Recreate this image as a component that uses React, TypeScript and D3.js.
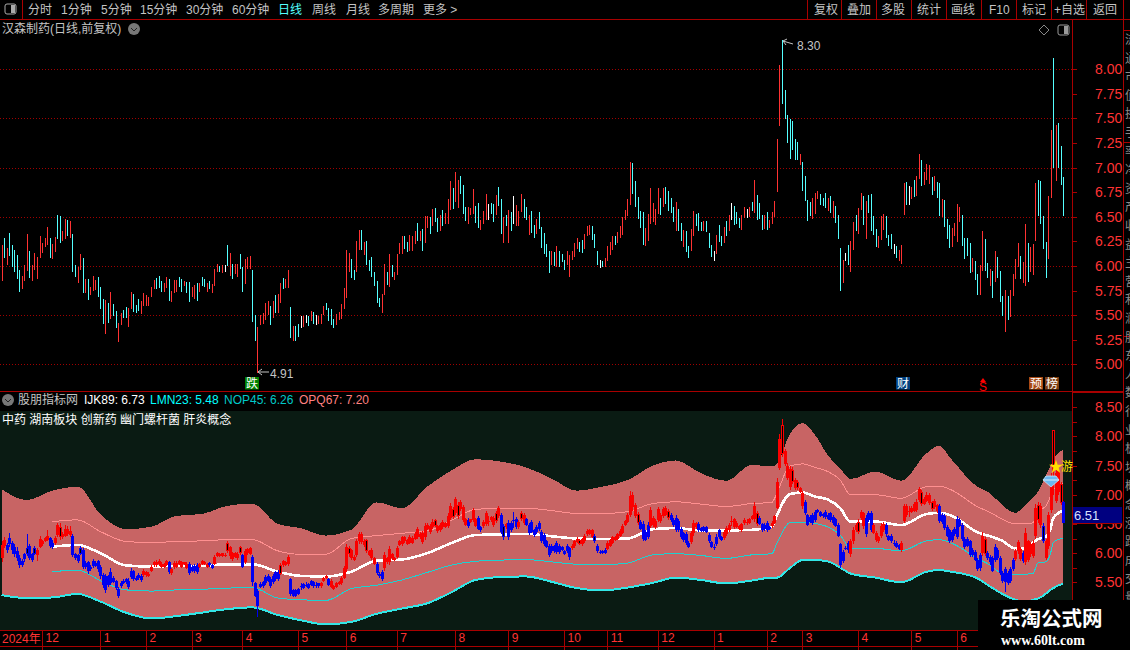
import React, { useEffect, useRef } from 'react';
import * as d3 from 'd3';

// r = up, c = down, w = flat (colours of the upper pane)
const barTones = [
  'rcrcccccrr', 'rcrrrrrrrc', 'rrccrrcrcc', 'rrcrcrrrcc', 'crcrccrrcc', 'rrcccrrrrr', 'rcccrrcrrr', 'ccrccrrcrc', 'crcrrrcrwc', 'rcrrccrrrc', 'crrrrrcrcr', 'rcrrcrcc',
  'wrwcrcwrrr', 'ccccrrrrrr', 'ccrrcrcccc', 'ccrrcrcrrr', 'rccrrrcrcr', 'rcrccrcrrr', 'crrcccrrrc', 'crrrwccrcc', 'rcrcwrrrcc', 'rccrcccccr', 'crcccrrrrr', 'ccrrrcccw',
  'crrrrcrrrr', 'rrcccccrrr', 'rrrcrccccr', 'ccrccrrccc', 'rcccwrccrc', 'rwcccrrwrc', 'rcccrcrrrr', 'rcccccccrc', 'cccrrrcccr',
  'crcccrwcrr', 'crrcrccccr', 'rrcccwcrrr', 'cwrcrrcrrr', 'crccrcccrr', 'rrccccrccr', 'rccrcrcccr', 'crrrrcrrcr', 'rrccccrrcr', 'ccc',
].join('');

const highs = [
  6.21, 6.28, 6.18, 6.34, 6.21, 6.16, 6.11, 5.96, 5.90, 6.01,
  6.33, 6.15, 6.01, 6.13, 6.09, 6.30, 6.23, 6.28, 6.40, 6.28,
  6.22, 6.29, 6.52, 6.51, 6.36, 6.48, 6.47, 6.46, 6.33, 6.01,
  5.99, 6.12, 6.08, 5.87, 5.87, 5.79, 5.90, 5.86, 5.89, 5.79,
  5.66, 5.65, 5.62, 5.74, 5.61, 5.54, 5.42, 5.52, 5.55, 5.58,
  5.57, 5.74, 5.71, 5.60, 5.66, 5.64, 5.73, 5.70, 5.68, 5.79,
  5.86, 5.88, 5.90, 5.85, 5.83, 5.89, 5.87, 5.75, 5.86, 5.86,
  5.89, 5.87, 5.85, 5.84, 5.84, 5.79, 5.81, 5.83, 5.83, 5.89,
  5.87, 5.83, 5.85, 5.82, 5.97, 6.02, 6.00, 6.01, 6.01, 6.21,
  6.13, 6.02, 6.02, 6.02, 6.12, 5.99, 6.07, 6.09, 6.10, 5.96,
  5.50, 5.38, 5.50, 5.52, 5.62, 5.64, 5.59, 5.64, 5.70, 5.71,
  5.83, 5.88, 5.87, 5.96, 5.58, 5.39, 5.39, 5.41,
  5.49, 5.49, 5.50, 5.49, 5.54, 5.53, 5.50, 5.49, 5.51, 5.59,
  5.62, 5.57, 5.56, 5.46, 5.51, 5.53, 5.61, 5.78, 6.16, 6.13,
  6.07, 5.96, 6.25, 6.37, 6.37, 6.24, 6.25, 6.06, 6.09, 5.94,
  5.85, 5.67, 5.71, 6.02, 5.94, 6.12, 6.01, 5.94, 6.12, 6.23,
  6.30, 6.30, 6.24, 6.31, 6.30, 6.36, 6.44, 6.36, 6.38, 6.51,
  6.51, 6.50, 6.58, 6.59, 6.49, 6.52, 6.57, 6.54, 6.68, 6.86,
  6.79, 6.96, 6.87, 6.91, 6.82, 6.60, 6.60, 6.59, 6.78, 6.61,
  6.64, 6.47, 6.56, 6.73, 6.63, 6.64, 6.63, 6.72, 6.80, 6.68,
  6.50, 6.52, 6.57, 6.55, 6.71, 6.62, 6.56, 6.73, 6.68, 6.60,
  6.52, 6.56, 6.42, 6.48, 6.55, 6.40, 6.34, 6.22, 6.15, 6.15,
  6.14, 6.20, 6.15, 6.12, 6.06, 6.15, 6.11, 6.15, 6.23, 6.28,
  6.24, 6.26, 6.33, 6.41, 6.42, 6.41, 6.33, 6.15, 6.06,
  6.05, 6.08, 6.20, 6.24, 6.30, 6.30, 6.35, 6.41, 6.50, 6.57,
  6.68, 7.06, 7.05, 6.86, 6.70, 6.56, 6.55, 6.39, 6.53, 6.79,
  6.64, 6.58, 6.79, 6.69, 6.79, 6.80, 6.76, 6.69, 6.60, 6.65,
  6.58, 6.44, 6.37, 6.36, 6.20, 6.38, 6.56, 6.53, 6.54, 6.45,
  6.46, 6.46, 6.34, 6.21, 6.15, 6.32, 6.42, 6.30, 6.40, 6.46,
  6.52, 6.64, 6.61, 6.55, 6.49, 6.52, 6.60, 6.58, 6.60, 6.65,
  6.87, 6.72, 6.64, 6.52, 6.52, 6.55, 6.47, 6.55, 6.66, 7.29,
  8.04, 8.30, 7.79, 7.54, 7.49, 7.47, 7.29, 7.26, 7.14, 7.06,
  6.91, 6.67, 6.65, 6.69, 6.74, 6.76, 6.73, 6.69, 6.74, 6.69,
  6.71, 6.66, 6.61, 6.52, 6.18, 6.06, 6.13, 6.21, 6.25, 6.45,
  6.52, 6.59, 6.74, 6.71, 6.66, 6.72, 6.73, 6.51, 6.38, 6.30,
  6.51, 6.53, 6.51, 6.31, 6.33, 6.22, 6.20, 6.16, 6.21, 6.84,
  6.85, 6.81, 6.80, 6.87, 6.92, 7.14, 7.08, 6.96, 7.04, 7.03,
  6.90, 6.92, 6.85, 6.84, 6.68, 6.67, 6.48, 6.42, 6.39, 6.44,
  6.63, 6.60, 6.52, 6.28, 6.28, 6.23, 6.08, 6.05, 5.92, 6.01,
  6.36, 6.27, 6.03, 5.97, 5.95, 6.15, 6.09, 5.95, 5.69, 5.76,
  5.69, 5.76, 5.92, 6.07, 6.23, 6.10, 6.04, 6.43, 6.23, 6.19,
  6.22, 6.84, 6.87, 6.86, 6.51, 6.24, 6.71, 7.38, 8.11, 7.43,
  7.45, 7.22, 6.90,
];

const lows = [
  5.85, 6.08, 6.01, 6.10, 5.99, 5.94, 5.87, 5.74, 5.77, 5.85,
  5.95, 5.88, 5.85, 5.96, 5.87, 6.08, 6.13, 6.19, 6.21, 6.08,
  6.07, 6.14, 6.27, 6.23, 6.25, 6.27, 6.30, 6.28, 5.94, 5.89,
  5.83, 5.96, 5.73, 5.73, 5.65, 5.70, 5.75, 5.76, 5.68, 5.56,
  5.41, 5.31, 5.42, 5.46, 5.49, 5.37, 5.23, 5.40, 5.47, 5.47,
  5.38, 5.56, 5.53, 5.52, 5.54, 5.51, 5.59, 5.59, 5.59, 5.68,
  5.77, 5.77, 5.78, 5.74, 5.74, 5.78, 5.64, 5.63, 5.73, 5.74,
  5.79, 5.74, 5.80, 5.73, 5.63, 5.68, 5.66, 5.64, 5.74, 5.80,
  5.79, 5.74, 5.77, 5.73, 5.80, 5.94, 5.94, 5.93, 5.94, 6.00,
  5.90, 5.87, 5.92, 5.89, 5.97, 5.74, 5.82, 5.97, 5.97, 5.43,
  5.24, 4.91, 5.40, 5.41, 5.45, 5.50, 5.40, 5.47, 5.52, 5.52,
  5.62, 5.77, 5.78, 5.78, 5.27, 5.24, 5.24, 5.28,
  5.37, 5.38, 5.42, 5.39, 5.44, 5.41, 5.40, 5.41, 5.41, 5.50,
  5.55, 5.44, 5.40, 5.37, 5.40, 5.45, 5.46, 5.56, 5.67, 5.94,
  5.88, 5.86, 5.94, 6.16, 6.16, 6.11, 6.01, 5.95, 5.89, 5.80,
  5.62, 5.58, 5.52, 5.70, 5.81, 5.79, 5.89, 5.86, 5.91, 6.12,
  6.12, 6.17, 6.14, 6.15, 6.15, 6.22, 6.25, 6.25, 6.15, 6.23,
  6.39, 6.33, 6.41, 6.45, 6.35, 6.36, 6.41, 6.43, 6.43, 6.57,
  6.58, 6.65, 6.59, 6.73, 6.53, 6.46, 6.43, 6.52, 6.53, 6.44,
  6.39, 6.37, 6.43, 6.47, 6.47, 6.53, 6.45, 6.52, 6.61, 6.33,
  6.23, 6.41, 6.23, 6.36, 6.43, 6.41, 6.41, 6.55, 6.49, 6.47,
  6.31, 6.34, 6.28, 6.33, 6.38, 6.18, 6.12, 6.09, 5.93, 6.01,
  6.00, 5.99, 5.99, 6.04, 5.96, 6.01, 5.89, 6.06, 6.09, 6.17,
  6.14, 6.13, 6.17, 6.30, 6.31, 6.26, 6.18, 6.01, 5.98,
  5.99, 5.99, 6.05, 6.11, 6.16, 6.21, 6.23, 6.28, 6.32, 6.47,
  6.51, 6.62, 6.73, 6.60, 6.48, 6.39, 6.21, 6.20, 6.25, 6.43,
  6.45, 6.42, 6.53, 6.52, 6.60, 6.63, 6.56, 6.54, 6.45, 6.36,
  6.36, 6.25, 6.19, 6.14, 6.08, 6.15, 6.30, 6.41, 6.36, 6.36,
  6.36, 6.35, 6.18, 6.09, 6.05, 6.12, 6.24, 6.20, 6.23, 6.30,
  6.36, 6.47, 6.42, 6.43, 6.39, 6.37, 6.49, 6.49, 6.50, 6.56,
  6.54, 6.47, 6.48, 6.37, 6.38, 6.37, 6.39, 6.43, 6.50, 6.75,
  7.42, 7.65, 7.49, 7.25, 7.09, 7.18, 7.08, 7.08, 7.03, 6.76,
  6.66, 6.46, 6.51, 6.48, 6.53, 6.68, 6.62, 6.61, 6.59, 6.56,
  6.54, 6.49, 6.44, 6.27, 5.75, 5.83, 6.05, 6.01, 5.94, 6.16,
  6.36, 6.33, 6.57, 6.42, 6.27, 6.54, 6.36, 6.32, 6.19, 6.18,
  6.26, 6.37, 6.28, 6.20, 6.17, 6.12, 6.08, 6.05, 6.02, 6.52,
  6.62, 6.62, 6.68, 6.70, 6.71, 6.88, 6.81, 6.82, 6.87, 6.83,
  6.72, 6.76, 6.69, 6.51, 6.50, 6.40, 6.27, 6.18, 6.19, 6.30,
  6.24, 6.45, 6.20, 6.07, 6.10, 5.93, 5.94, 5.86, 5.70, 5.70,
  5.95, 5.95, 5.88, 5.80, 5.67, 5.84, 5.88, 5.63, 5.49, 5.33,
  5.45, 5.48, 5.69, 5.87, 5.99, 5.87, 5.83, 5.80, 5.84, 5.94,
  5.91, 6.25, 6.51, 6.43, 6.17, 5.88, 6.07, 6.69, 7.00, 6.86,
  7.00, 6.82, 6.51,
];

const opens = [
  5.92, 6.22, 6.06, 6.26, 6.17, 6.10, 6.03, 5.92, 5.80, 5.90,
  5.98, 6.12, 5.89, 5.99, 5.96, 6.11, 6.15, 6.21, 6.23, 6.26,
  6.11, 6.17, 6.48, 6.45, 6.27, 6.29, 6.42, 6.31, 6.30, 5.99,
  5.86, 5.99, 6.05, 5.76, 5.84, 5.72, 5.78, 5.78, 5.86, 5.76,
  5.62, 5.36, 5.60, 5.49, 5.58, 5.52, 5.27, 5.43, 5.53, 5.55,
  5.42, 5.59, 5.69, 5.58, 5.63, 5.54, 5.62, 5.62, 5.61, 5.70,
  5.79, 5.85, 5.87, 5.82, 5.76, 5.80, 5.84, 5.66, 5.76, 5.76,
  5.87, 5.85, 5.81, 5.82, 5.81, 5.70, 5.69, 5.80, 5.76, 5.87,
  5.85, 5.76, 5.83, 5.75, 5.82, 5.95, 5.99, 5.95, 5.97, 6.18,
  5.95, 6.00, 5.94, 5.92, 6.10, 5.96, 5.85, 6.00, 5.99, 5.93,
  5.48, 5.10, 5.42, 5.44, 5.48, 5.53, 5.56, 5.50, 5.67, 5.55,
  5.65, 5.86, 5.80, 5.81, 5.55, 5.26, 5.37, 5.39,
  5.44, 5.40, 5.46, 5.47, 5.46, 5.51, 5.45, 5.43, 5.43, 5.52,
  5.60, 5.55, 5.52, 5.44, 5.42, 5.47, 5.48, 5.58, 5.72, 5.98,
  6.05, 5.94, 5.97, 6.20, 6.33, 6.14, 6.22, 6.04, 6.06, 5.92,
  5.82, 5.65, 5.56, 5.74, 5.91, 5.84, 5.99, 5.88, 5.93, 6.14,
  6.16, 6.27, 6.22, 6.18, 6.18, 6.24, 6.41, 6.27, 6.35, 6.27,
  6.42, 6.47, 6.44, 6.56, 6.46, 6.39, 6.54, 6.45, 6.47, 6.61,
  6.76, 6.69, 6.63, 6.88, 6.79, 6.58, 6.46, 6.54, 6.56, 6.59,
  6.61, 6.39, 6.46, 6.50, 6.55, 6.62, 6.60, 6.55, 6.77, 6.65,
  6.27, 6.50, 6.28, 6.52, 6.57, 6.45, 6.44, 6.58, 6.65, 6.58,
  6.35, 6.53, 6.40, 6.36, 6.52, 6.37, 6.31, 6.20, 6.12, 6.04,
  6.12, 6.02, 6.13, 6.10, 6.04, 6.04, 5.93, 6.08, 6.12, 6.19,
  6.22, 6.24, 6.20, 6.32, 6.33, 6.39, 6.30, 6.13, 6.02,
  6.04, 6.00, 6.07, 6.13, 6.18, 6.28, 6.25, 6.30, 6.35, 6.49,
  6.53, 6.66, 7.00, 6.83, 6.67, 6.53, 6.50, 6.23, 6.28, 6.47,
  6.48, 6.45, 6.56, 6.66, 6.63, 6.77, 6.73, 6.66, 6.57, 6.40,
  6.55, 6.41, 6.22, 6.33, 6.18, 6.19, 6.34, 6.51, 6.50, 6.43,
  6.38, 6.44, 6.31, 6.19, 6.10, 6.15, 6.39, 6.28, 6.26, 6.43,
  6.39, 6.55, 6.58, 6.52, 6.47, 6.40, 6.51, 6.53, 6.52, 6.63,
  6.58, 6.69, 6.61, 6.50, 6.41, 6.52, 6.41, 6.46, 6.52, 6.78,
  7.46, 8.20, 7.75, 7.50, 7.45, 7.43, 7.25, 7.22, 7.05, 7.03,
  6.88, 6.65, 6.62, 6.51, 6.56, 6.70, 6.71, 6.67, 6.71, 6.59,
  6.68, 6.52, 6.58, 6.49, 6.15, 5.87, 6.09, 6.18, 5.98, 6.20,
  6.49, 6.37, 6.60, 6.68, 6.32, 6.69, 6.69, 6.48, 6.35, 6.20,
  6.30, 6.40, 6.48, 6.29, 6.30, 6.17, 6.18, 6.07, 6.05, 6.55,
  6.80, 6.72, 6.70, 6.84, 6.74, 6.91, 7.05, 6.84, 6.89, 6.86,
  6.87, 6.79, 6.82, 6.81, 6.53, 6.64, 6.45, 6.39, 6.22, 6.33,
  6.28, 6.47, 6.48, 6.25, 6.25, 6.20, 5.97, 6.02, 5.89, 5.74,
  6.00, 6.24, 6.00, 5.84, 5.92, 5.88, 6.06, 5.92, 5.66, 5.50,
  5.66, 5.52, 5.72, 5.90, 6.03, 6.07, 5.87, 5.85, 6.20, 5.98,
  5.95, 6.30, 6.83, 6.80, 6.47, 6.20, 6.12, 6.74, 8.11, 6.90,
  7.40, 7.18, 6.87,
];

const closes = [
  6.14, 6.12, 6.14, 6.15, 6.05, 5.98, 5.92, 5.79, 5.87, 5.98,
  6.08, 5.92, 5.98, 6.08, 6.05, 6.24, 6.21, 6.26, 6.30, 6.12,
  6.18, 6.26, 6.31, 6.27, 6.33, 6.42, 6.33, 6.38, 5.97, 5.91,
  5.96, 6.08, 5.77, 5.83, 5.69, 5.77, 5.86, 5.83, 5.72, 5.60,
  5.45, 5.60, 5.45, 5.68, 5.51, 5.40, 5.38, 5.49, 5.49, 5.50,
  5.52, 5.70, 5.56, 5.54, 5.57, 5.61, 5.70, 5.67, 5.65, 5.76,
  5.84, 5.80, 5.81, 5.77, 5.81, 5.86, 5.68, 5.72, 5.83, 5.83,
  5.81, 5.77, 5.84, 5.75, 5.66, 5.76, 5.78, 5.68, 5.81, 5.82,
  5.81, 5.81, 5.79, 5.80, 5.94, 6.00, 5.95, 6.00, 5.97, 6.03,
  6.10, 5.90, 6.00, 5.99, 6.00, 5.77, 6.04, 6.07, 6.08, 5.50,
  5.27, 5.35, 5.47, 5.50, 5.59, 5.61, 5.44, 5.61, 5.55, 5.68,
  5.80, 5.79, 5.85, 5.93, 5.30, 5.36, 5.27, 5.30,
  5.44, 5.47, 5.46, 5.41, 5.52, 5.43, 5.45, 5.48, 5.49, 5.57,
  5.57, 5.46, 5.42, 5.39, 5.49, 5.51, 5.58, 5.74, 6.10, 6.08,
  5.91, 5.88, 6.20, 6.33, 6.19, 6.21, 6.04, 5.97, 5.92, 5.82,
  5.66, 5.60, 5.68, 5.96, 5.84, 6.07, 5.91, 5.92, 6.08, 6.20,
  6.27, 6.20, 6.16, 6.27, 6.26, 6.33, 6.28, 6.33, 6.19, 6.47,
  6.48, 6.36, 6.54, 6.47, 6.38, 6.48, 6.44, 6.51, 6.63, 6.81,
  6.62, 6.92, 6.83, 6.76, 6.57, 6.49, 6.57, 6.58, 6.74, 6.47,
  6.42, 6.45, 6.53, 6.69, 6.55, 6.56, 6.48, 6.68, 6.64, 6.37,
  6.46, 6.44, 6.52, 6.39, 6.57, 6.58, 6.53, 6.69, 6.52, 6.49,
  6.48, 6.37, 6.31, 6.45, 6.41, 6.21, 6.15, 6.11, 5.96, 6.12,
  6.03, 6.17, 6.02, 6.06, 5.98, 6.12, 6.08, 6.13, 6.20, 6.25,
  6.16, 6.15, 6.30, 6.38, 6.39, 6.28, 6.20, 6.03, 6.02,
  6.00, 6.06, 6.18, 6.22, 6.27, 6.23, 6.33, 6.38, 6.47, 6.55,
  6.65, 6.98, 6.79, 6.63, 6.51, 6.42, 6.25, 6.36, 6.49, 6.74,
  6.60, 6.55, 6.75, 6.55, 6.75, 6.66, 6.60, 6.57, 6.48, 6.61,
  6.40, 6.28, 6.34, 6.18, 6.11, 6.34, 6.52, 6.44, 6.40, 6.38,
  6.44, 6.37, 6.21, 6.11, 6.10, 6.28, 6.27, 6.22, 6.37, 6.33,
  6.49, 6.55, 6.45, 6.45, 6.41, 6.50, 6.57, 6.53, 6.58, 6.58,
  6.80, 6.50, 6.50, 6.40, 6.49, 6.40, 6.45, 6.52, 6.63, 7.22,
  7.95, 7.70, 7.52, 7.29, 7.14, 7.22, 7.12, 7.11, 7.12, 6.80,
  6.69, 6.49, 6.54, 6.65, 6.71, 6.74, 6.64, 6.63, 6.62, 6.66,
  6.57, 6.62, 6.47, 6.30, 5.80, 6.02, 6.09, 6.05, 6.21, 6.40,
  6.40, 6.54, 6.70, 6.46, 6.60, 6.57, 6.40, 6.35, 6.22, 6.27,
  6.47, 6.50, 6.32, 6.22, 6.20, 6.17, 6.11, 6.14, 6.18, 6.80,
  6.66, 6.72, 6.77, 6.73, 6.88, 7.10, 6.85, 6.93, 7.00, 6.99,
  6.75, 6.89, 6.72, 6.55, 6.65, 6.43, 6.30, 6.21, 6.36, 6.41,
  6.58, 6.57, 6.24, 6.10, 6.13, 5.97, 6.05, 5.89, 5.73, 5.97,
  6.30, 5.99, 5.91, 5.94, 5.70, 6.10, 5.91, 5.66, 5.52, 5.72,
  5.49, 5.72, 5.88, 6.03, 6.19, 5.90, 6.00, 6.35, 5.88, 6.15,
  6.18, 6.78, 6.56, 6.48, 6.21, 5.92, 6.66, 7.32, 7.40, 7.38,
  7.05, 6.86, 6.51,
];

// runs of bars that the lower pane paints red, all others are blue
const redRuns = [
  [0, 1], [14, 18], [21, 27], [56, 65], [67, 73], [78, 81], [84, 94], [96, 98], [110, 113],
  [126, 128], [130, 147], [151, 183], [185, 187], [190, 196], [199, 199], [204, 206],
  [225, 233], [239, 251], [256, 263], [272, 274], [285, 298], [304, 316], [335, 340],
  [344, 348], [355, 369], [387, 388], [400, 402], [404, 410], [412, 418],
];

// candles drawn hollow in the lower pane
const hollowBars = [10, 13, 23, 31, 89, 94, 110, 137, 144, 171, 178, 180, 195, 198, 205, 228, 234, 251, 263, 298, 308, 312, 314, 338, 363, 367, 388, 409, 411, 415, 418];

const bandBars = [
  0, 10, 20, 30, 39, 49, 59, 69, 79, 89,
  99, 109, 118, 128, 138, 148, 158, 168, 178, 187,
  197, 207, 217, 227, 237, 247, 257, 266, 276, 286,
  296, 304, 306, 311, 316, 321, 326, 331, 335, 345, 355,
  365, 370, 375, 385, 390, 395, 400, 404, 407, 409, 412, 414, 415, 419,
];
const bandUpper = [
  7.10, 6.91, 7.07, 7.14, 6.67, 6.41, 6.45, 6.64, 6.67, 6.81,
  6.85, 6.50, 6.43, 6.30, 6.40, 6.87, 6.77, 7.14, 7.43, 7.61,
  7.57, 7.47, 7.28, 7.07, 7.14, 7.25, 7.50, 7.59, 7.37, 7.24,
  7.51, 7.49, 7.53, 8.03, 8.23, 8.03, 7.68, 7.45, 7.27, 7.40, 7.24,
  7.71, 7.84, 7.60, 7.14, 7.03, 6.82, 6.69, 6.82, 6.95, 7.05, 7.32, 7.50, 7.60, 7.77,
];
const bandLower = [
  5.28, 5.23, 5.24, 5.30, 5.17, 4.98, 4.88, 4.92, 4.98, 5.04,
  5.07, 4.94, 4.85, 4.78, 4.82, 4.96, 5.05, 5.14, 5.34, 5.54,
  5.59, 5.60, 5.51, 5.40, 5.36, 5.41, 5.49, 5.58, 5.54, 5.48,
  5.53, 5.58, 5.58, 5.74, 5.88, 5.88, 5.86, 5.75, 5.65, 5.58, 5.50,
  5.68, 5.71, 5.68, 5.57, 5.43, 5.30, 5.20, 5.16, 5.20, 5.22, 5.30, 5.37, 5.40, 5.48,
];
const ijk89 = [
  null, null, 6.11, 6.14, 6.00, 5.79, 5.77, 5.78, 5.78, 5.81,
  5.81, 5.68, 5.61, 5.60, 5.68, 5.87, 5.89, 6.00, 6.18, 6.31,
  6.32, 6.33, 6.29, 6.25, 6.24, 6.25, 6.41, 6.43, 6.39, 6.39,
  6.40, 6.45, 6.65, 7.01, 7.04, 6.97, 6.92, 6.77, 6.54, 6.54, 6.48,
  6.67, 6.69, 6.64, 6.36, 6.29, 6.21, 6.08, 6.08, 6.18, 6.24, 6.28, 6.42, 6.60, 6.73,
];
const opq67 = [
  null, null, 6.54, 6.57, 6.37, 6.20, 6.18, 6.20, 6.21, 6.23,
  6.23, 6.04, 5.98, 5.98, 6.25, 6.30, 6.34, 6.38, 6.57, 6.75,
  6.77, 6.77, 6.73, 6.68, 6.68, 6.71, 6.85, 6.88, 6.84, 6.80,
  6.85, 6.87, 7.03, 7.49, 7.53, 7.47, 7.40, 7.25, 7.00, 7.00, 6.94,
  7.14, 7.15, 7.08, 6.80, 6.70, 6.58, 6.50, 6.50, 6.52, 6.72, 6.80, 6.98, 7.08, 7.20,
];
const nop45 = [
  null, null, 5.68, 5.71, 5.53, 5.37, 5.35, 5.37, 5.38, 5.40,
  5.41, 5.23, 5.20, 5.19, 5.39, 5.45, 5.54, 5.67, 5.80, 5.86,
  5.88, 5.89, 5.85, 5.81, 5.80, 5.83, 5.97, 5.99, 5.96, 5.91,
  5.97, 5.99, 6.17, 6.52, 6.53, 6.51, 6.45, 6.31, 6.08, 6.08, 6.04,
  6.21, 6.23, 6.17, 5.91, 5.80, 5.65, 5.64, 5.64, 5.65, 5.83, 5.85, 6.00, 6.18, 6.26,
];

const monthBars = [16, 39, 57, 75, 95, 117, 136, 156, 179, 200, 222, 239, 259, 281, 302, 316, 338, 359, 377];
const monthLabels = ['12', '1', '2', '3', '4', '5', '6', '7', '8', '9', '10', '11', '12', '1', '2', '3', '4', '5', '6'];

const leftTabs: [string, number][] = [['分时', 28], ['1分钟', 61], ['5分钟', 101], ['15分钟', 140], ['30分钟', 186], ['60分钟', 232], ['日线', 278], ['周线', 312], ['月线', 346], ['多周期', 378], ['更多 >', 423]];
const rightTabs: [string, number][] = [['复权', 814], ['叠加', 847], ['多股', 881], ['统计', 917], ['画线', 951], ['F10', 989], ['标记', 1022], ['+自选', 1054], ['返回', 1093]];
const tabLines = [807.5, 841.5, 876.5, 911.5, 946.5, 981.5, 1016.5, 1051.5, 1086.5];
const sideRows = ['流', '通', '市', '值', '换', '手', '率', '净', '资', '产', '收', '益', '主', '营', '利', '润', '股', '东', '人', '数', '行', '业', '板', '块', '概', '念', '涨', '跌', '成', '交', '量', '额'];

const upperTicks = d3.range(5, 8.01, 0.25);
const lowerTicks = d3.range(5.5, 8.51, 0.25);

const FONT = '"Liberation Sans","Noto Sans CJK SC",sans-serif';
const AXIS_RED = '#a80000';
const LABEL_RED = '#ff3333';
const GREY = '#c4c4c4';

const App: React.FC = () => {
  const ref = useRef<SVGSVGElement>(null);

  useEffect(() => {
    document.body.style.margin = '0';
    document.body.style.background = '#000';
    drawChart();
  }, []);

  const drawChart = () => {
    const svg = d3.select(ref.current);
    svg.selectAll('*').remove();

    const n = highs.length;
    const x = d3.scaleLinear().domain([0, n - 1]).range([1.5, 1063.3]);
    const yTop = d3.scaleLinear().domain([5, 8]).range([364.3, 69.3]);
    const yLow = d3.scaleLinear().domain([5.5, 8.5]).range([582.3, 407.3]);
    const px = (i: number) => Math.round(x(i));

    const text = (s: string, tx: number, ty: number, fill: string, size = 12, family = FONT) =>
      svg.append('text').attr('x', tx).attr('y', ty).attr('fill', fill)
        .attr('font-size', size).attr('font-family', family).text(s);

    // upper pane: dotted price grid, thin high-low lines
    const grid = svg.append('g').attr('shape-rendering', 'crispEdges');
    [5, 5.5, 6, 6.5, 7, 7.5, 8].forEach(p => {
      grid.append('line').attr('x1', 0).attr('x2', 1072)
        .attr('y1', Math.round(yTop(p)) + 0.5).attr('y2', Math.round(yTop(p)) + 0.5)
        .attr('stroke', '#a00000').attr('stroke-dasharray', '1 2');
    });

    const toneColor: Record<string, string> = { r: '#ff3232', c: '#54ffff', w: '#ffffff' };
    svg.append('g').attr('shape-rendering', 'crispEdges')
      .selectAll('rect').data(highs).enter().append('rect')
      .attr('x', (_, i) => px(i))
      .attr('y', d => yTop(d))
      .attr('width', 1)
      .attr('height', (d, i) => Math.max(1, yTop(lows[i]) - yTop(d)))
      .attr('fill', (_, i) => toneColor[barTones[i]]);

    // lower pane
    svg.append('rect').attr('x', 0).attr('y', 411).attr('width', 1072).attr('height', 219).attr('fill', '#0a1b13');

    const band = d3.area<number>()
      .x((_, i) => x(bandBars[i]))
      .y0((_, i) => yLow(bandLower[i]))
      .y1(d => yLow(d))
      .curve(d3.curveMonotoneX);
    svg.append('path').attr('d', band(bandUpper)).attr('fill', '#c86464').attr('shape-rendering', 'crispEdges');

    const line = d3.line<number | null>()
      .defined(d => d !== null)
      .x((_, i) => x(bandBars[i]))
      .y(d => yLow(d as number))
      .curve(d3.curveMonotoneX);
    const addLine = (vals: (number | null)[], color: string, width: number) =>
      svg.append('path').attr('d', line(vals)).attr('fill', 'none').attr('stroke', color)
        .attr('stroke-width', width).attr('shape-rendering', 'crispEdges');
    addLine(opq67, '#ff9090', 1);
    addLine(nop45, '#1ed2d2', 1);
    addLine(bandLower, '#33e6e6', 2);
    addLine(ijk89, '#ffffff', 2.6);

    const isRed = (i: number) => redRuns.some(([a, b]) => i >= a && i <= b);
    const barColor = (i: number) => (isRed(i) ? '#fa0000' : '#0000f0');
    const candles = svg.append('g').attr('shape-rendering', 'crispEdges');
    highs.forEach((h, i) => {
      const top = Math.max(opens[i], closes[i]);
      const bottom = Math.min(opens[i], closes[i]);
      candles.append('rect').attr('x', px(i)).attr('y', yLow(h)).attr('width', 1)
        .attr('height', yLow(lows[i]) - yLow(h)).attr('fill', barColor(i));
      candles.append('rect').attr('x', px(i) - 1).attr('y', yLow(top)).attr('width', 3)
        .attr('height', Math.max(1, yLow(bottom) - yLow(top))).attr('fill', barColor(i));
    });
    hollowBars.forEach(i => {
      const top = Math.max(opens[i], closes[i]);
      const bottom = Math.min(opens[i], closes[i]);
      candles.append('rect').attr('x', px(i)).attr('y', yLow(top) + 1).attr('width', 1)
        .attr('height', Math.max(1, yLow(bottom) - yLow(top) - 2)).attr('fill', '#000');
    });

    // price axes on the right
    const axisTop = d3.axisRight(yTop).tickValues(upperTicks).tickSize(5).tickFormat(d3.format('.2f') as any);
    const gTop = svg.append('g').attr('transform', 'translate(1072,0)').attr('shape-rendering', 'crispEdges').call(axisTop as any);
    const axisLow = d3.axisRight(yLow).tickValues(lowerTicks).tickSize(5)
      .tickFormat(((d: number) => (Math.round(d * 100) % 50 === 0 ? d3.format('.2f')(d) : '')) as any);
    const gLow = svg.append('g').attr('transform', 'translate(1072,0)').attr('shape-rendering', 'crispEdges').call(axisLow as any);
    [gTop, gLow].forEach(g => {
      g.select('.domain').remove();
      g.selectAll('line').attr('stroke', AXIS_RED);
      g.selectAll('text').attr('x', 23).attr('fill', LABEL_RED).attr('font-size', 14).attr('font-family', FONT);
    });

    // date axis
    svg.append('rect').attr('x', 0).attr('y', 630).attr('width', 1072).attr('height', 20).attr('fill', '#000');
    const axisDate = d3.axisBottom(x).tickValues(monthBars).tickSize(20)
      .tickFormat(((_: number, i: number) => monthLabels[i]) as any);
    const gDate = svg.append('g').attr('transform', 'translate(0,630)').attr('shape-rendering', 'crispEdges').call(axisDate as any);
    gDate.select('.domain').remove();
    gDate.selectAll('line').attr('stroke', AXIS_RED);
    gDate.selectAll('text').attr('x', 3).attr('y', 3).attr('text-anchor', 'start').attr('fill', LABEL_RED)
      .attr('font-size', 12).attr('font-family', FONT);
    text('2024年', 2, 643, LABEL_RED, 12);

    // frame
    const frame = svg.append('g').attr('stroke', AXIS_RED).attr('shape-rendering', 'crispEdges');
    const seg = (x1: number, y1: number, x2: number, y2: number, w = 1) =>
      frame.append('line').attr('x1', x1).attr('y1', y1).attr('x2', x2).attr('y2', y2).attr('stroke-width', w);
    seg(0, 19.5, 1130, 19.5);
    seg(0, 391.5, 1072, 391.5);
    seg(1072, 391.5, 1123, 391.5, 2);
    seg(0, 630.5, 1072, 630.5);
    seg(0, 646.5, 1072, 646.5);
    seg(1072.5, 20, 1072.5, 650);
    seg(1123.5, 0, 1123.5, 650);
    seg(22.5, 0, 22.5, 19);
    tabLines.forEach(l => seg(l, 0, l, 19));
    seg(1123, 30.5, 1130, 30.5);
    seg(1123, 142.5, 1130, 142.5);
    seg(1123, 336.5, 1130, 336.5);

    // toolbar
    svg.append('rect').attr('x', 5).attr('y', 4).attr('width', 11).attr('height', 10).attr('rx', 2)
      .attr('fill', 'none').attr('stroke', '#aaa');
    svg.append('rect').attr('x', 11).attr('y', 5).attr('width', 4).attr('height', 8).attr('fill', '#aaa');
    leftTabs.forEach(([s, tx]) => text(s, tx, 14, s === '日线' ? '#54ffff' : GREY));
    rightTabs.forEach(([s, tx]) => text(s, tx, 14, GREY));

    // pane titles
    text('汉森制药(日线,前复权)', 2, 33, GREY);
    const chevronCircle = (cx: number, cy: number) => {
      svg.append('circle').attr('cx', cx).attr('cy', cy).attr('r', 6).attr('fill', '#777');
      svg.append('path').attr('d', `M${cx - 3},${cy - 1}L${cx},${cy + 2}L${cx + 3},${cy - 1}`).attr('fill', 'none').attr('stroke', '#222');
    };
    chevronCircle(134, 29);
    svg.append('path').attr('d', 'M1044,25L1049,30L1044,35L1039,30Z').attr('fill', 'none').attr('stroke', '#888');
    svg.append('rect').attr('x', 1058).attr('y', 25).attr('width', 11).attr('height', 10).attr('rx', 2).attr('fill', 'none').attr('stroke', '#999');
    svg.append('rect').attr('x', 1064).attr('y', 26).attr('width', 4).attr('height', 8).attr('fill', '#999');

    chevronCircle(8, 400);
    text('股朋指标网', 18, 404, GREY);
    text('IJK89: 6.73', 84, 404, '#ffffff', 12);
    text('LMN23: 5.48', 150, 404, '#00ffff', 12);
    text('NOP45: 6.26', 224, 404, '#00c8c8', 12);
    text('OPQ67: 7.20', 299, 404, '#ff8080', 12);
    text('中药 湖南板块 创新药 幽门螺杆菌 肝炎概念', 2, 424, '#ffffff', 12);

    // extreme labels on the upper pane
    svg.append('path').attr('d', 'M783,41L793,44M783,41L787,39M783,41L786,45').attr('fill', 'none').attr('stroke', GREY);
    text('8.30', 797, 50, GREY, 12);
    svg.append('path').attr('d', 'M258,372L269,372M258,372L262,369M258,372L262,375').attr('fill', 'none').attr('stroke', GREY);
    text('4.91', 270, 378, GREY, 12);

    // event flags
    const flag = (s: string, fx: number, color: string) => {
      svg.append('rect').attr('x', fx).attr('y', 377).attr('width', 14).attr('height', 12.5).attr('fill', color);
      text(s, fx + 1, 388, '#ffffff', 12);
    };
    flag('跌', 245, '#008000');
    flag('财', 896, '#004080');
    flag('预', 1029, '#a84a14');
    flag('榜', 1045, '#7c3c10');
    svg.append('path').attr('d', 'M980,382L983,378L986,382Z').attr('fill', '#ff0000');
    text('S', 979, 391, '#ff0000', 12);

    // last price box
    svg.append('rect').attr('x', 1073).attr('y', 507).attr('width', 49).attr('height', 16).attr('fill', '#000080');
    seg(1073, 507.5, 1122, 507.5);
    seg(1073, 523.5, 1122, 523.5);
    text('6.51', 1074, 520, '#d8e0ff', 13);

    // signals on the last bars
    const star = d3.symbol().type(d3.symbolStar).size(60);
    svg.append('path').attr('d', star()).attr('transform', 'translate(1056,467)').attr('fill', '#ffe000');
    text('游', 1061, 471, '#ffe000', 12);
    svg.append('path').attr('d', 'M1046,476L1056,476L1059,480L1051,487L1043,480Z').attr('fill', '#6cb8f0').attr('stroke', '#d0ecff').attr('stroke-width', 0.7);
    svg.append('path').attr('d', 'M1043,480L1059,480').attr('stroke', '#d8f0ff').attr('stroke-width', 1);

    // clipped neighbour column at the window edge
    const side = svg.append('g');
    sideRows.forEach((s, i) => {
      side.append('text').attr('x', 1125).attr('y', 44 + i * 18.6).attr('fill', '#8c8c8c')
        .attr('font-size', 12).attr('font-family', FONT).text(s);
    });

    // watermark
    svg.append('rect').attr('x', 978).attr('y', 600).attr('width', 152).attr('height', 50).attr('fill', '#000');
    text('乐淘公式网', 1000, 626, '#ffffff', 20.5).attr('font-weight', 700);
    text('www.60lt.com', 1001, 645, '#ffffff', 14, '"Liberation Serif",serif').attr('font-weight', 700);
  };

  return <svg ref={ref} width={1130} height={650} style={{ position: 'absolute', left: 0, top: 0, display: 'block', background: '#000' }} />;
};

export default App;
